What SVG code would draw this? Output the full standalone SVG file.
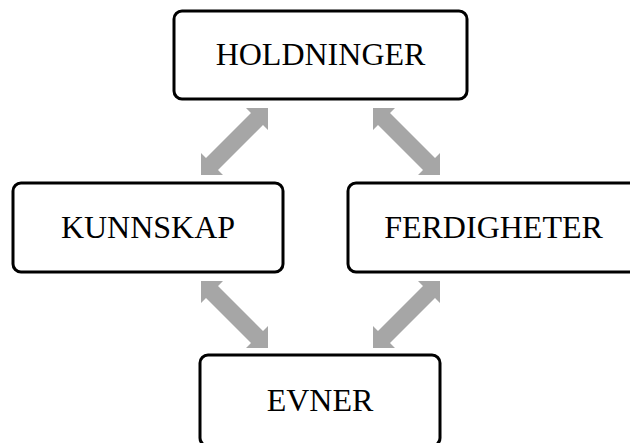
<svg xmlns="http://www.w3.org/2000/svg" xmlns:xlink="http://www.w3.org/1999/xlink" width="630" height="443" viewBox="0 0 630 443">
  <style>
    .box { fill: #ffffff; stroke: #000000; stroke-width: 3; }
    .label { font-family: "Liberation Serif", "Times New Roman", serif; font-size: 32px; fill: #000000; text-anchor: middle; }
    .link { fill: #a6a6a6; stroke: none; }
  </style>
  <defs>
    <!-- double-headed block arrow, upper-right tip to lower-left tip -->
    <path id="dbl-arrow" d="M268,108 L268,130 L263,125 L218,170 L223,175 L201,175 L201,153 L206,158 L251,113 L246,108 Z"/>
  </defs>

  <rect width="630" height="443" fill="#ffffff"/>

  <g id="connectors" class="link">
    <use xlink:href="#dbl-arrow"/>
    <use xlink:href="#dbl-arrow" transform="matrix(-1 0 0 1 641 0)"/>
    <use xlink:href="#dbl-arrow" transform="matrix(1 0 0 -1 0 456)"/>
    <use xlink:href="#dbl-arrow" transform="matrix(-1 0 0 -1 641 456)"/>
  </g>

  <g id="holdninger">
    <rect class="box" x="174" y="11" width="293" height="88" rx="8" ry="8"/>
    <text class="label" x="320.5" y="65">HOLDNINGER</text>
  </g>

  <g id="kunnskap">
    <rect class="box" x="13" y="183" width="270" height="89" rx="8" ry="8"/>
    <text class="label" x="148" y="238">KUNNSKAP</text>
  </g>

  <g id="ferdigheter">
    <rect class="box" x="348" y="183" width="310" height="89" rx="8" ry="8"/>
    <text class="label" x="493.5" y="238">FERDIGHETER</text>
  </g>

  <g id="evner">
    <rect class="box" x="200" y="355" width="240" height="91" rx="8" ry="8"/>
    <text class="label" x="320" y="411">EVNER</text>
  </g>
</svg>
